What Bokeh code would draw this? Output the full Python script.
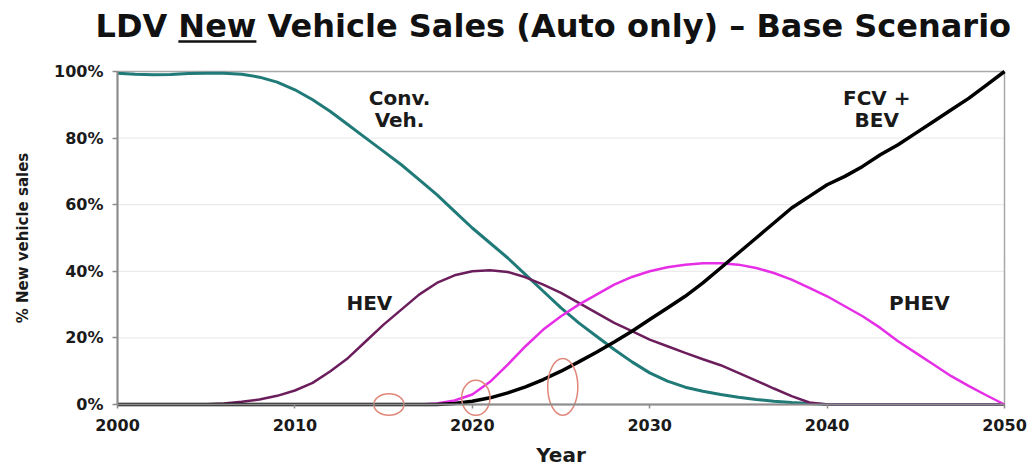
import numpy as np
from bokeh.plotting import figure
from bokeh.models import Range1d, FixedTicker, PrintfTickFormatter
from bokeh.core.properties import value
from bokeh.embed import file_html
from bokeh.resources import INLINE

# ---------------- data ----------------
years = list(range(2000, 2051))

conv_veh = [99.5, 99.2, 99.0, 99.1, 99.4, 99.5, 99.5, 99.2, 98.3, 96.8,
            94.5, 91.5, 88.0, 84.0, 80.0, 76.0, 72.0, 67.5, 63.0, 58.0,
            53.0, 48.5, 44.0, 39.0, 34.0, 29.0, 24.5, 20.5, 16.5, 12.8,
            9.5, 7.0, 5.2, 4.0, 3.0, 2.2, 1.5, 1.0, 0.6, 0.3,
            0.0, 0.0, 0.0, 0.0, 0.0, 0.0, 0.0, 0.0, 0.0, 0.0, 0.0]

hev = [0.0, 0.0, 0.0, 0.0, 0.0, 0.1, 0.3, 0.8, 1.5, 2.6,
       4.2, 6.5, 10.0, 14.0, 19.0, 24.0, 28.5, 33.0, 36.5, 38.8,
       40.0, 40.3, 39.8, 38.2, 36.0, 33.5, 30.5, 27.5, 24.5, 22.0,
       19.5, 17.5, 15.5, 13.6, 11.8, 9.5, 7.2, 4.8, 2.5, 0.6,
       0.0, 0.0, 0.0, 0.0, 0.0, 0.0, 0.0, 0.0, 0.0, 0.0, 0.0]

phev = [0.0, 0.0, 0.0, 0.0, 0.0, 0.0, 0.0, 0.0, 0.0, 0.0,
        0.0, 0.0, 0.0, 0.0, 0.0, 0.0, 0.0, 0.0, 0.3, 1.2,
        3.0, 6.8, 12.0, 17.5, 22.5, 26.5, 30.0, 33.0, 36.0, 38.3,
        40.0, 41.2, 42.0, 42.4, 42.4, 42.0, 41.0, 39.5, 37.5, 35.0,
        32.5, 29.5, 26.5, 23.0, 19.0, 15.5, 12.0, 8.5, 5.5, 2.7, 0.0]

fcv_bev = [0.0, 0.0, 0.0, 0.0, 0.0, 0.0, 0.0, 0.0, 0.0, 0.0,
           0.0, 0.0, 0.0, 0.0, 0.0, 0.0, 0.0, 0.0, 0.0, 0.3,
           1.0, 2.0, 3.5, 5.3, 7.5, 10.0, 12.8, 15.7, 18.8, 22.0,
           25.5, 29.0, 32.5, 36.5, 41.0, 45.5, 50.0, 54.5, 59.0, 62.5,
           66.0, 68.5, 71.5, 75.0, 78.0, 81.5, 85.0, 88.5, 92.0, 96.0, 100.0]

x_ticks = [2000, 2010, 2020, 2030, 2040, 2050]
y_ticks = [0, 20, 40, 60, 80, 100]

series_labels = ["Conv.", "Veh.", "HEV", "FCV +", "BEV", "PHEV"]
title_text = "LDV New Vehicle Sales (Auto only) \u2013 Base Scenario"

# hand-drawn highlight ellipses (center year, center %, width in years, height in %)
ell_x = [2015.3, 2020.2, 2025.1]
ell_y = [0.0, 2.0, 5.3]
ell_w = [1.7, 1.6, 1.7]
ell_h = [6.5, 10.5, 17.0]

# ---------------- layout / styles ----------------
W, H = 1029, 466
FONT = "DejaVu Sans"
# plot area in canvas pixels
PX_L, PX_R, PX_T, PX_B = 117.0, 1004.0, 71.0, 404.0
X0, X1 = x_ticks[0], x_ticks[-1]
Y0, Y1 = y_ticks[0], y_ticks[-1]
sx = (PX_R - PX_L) / (X1 - X0)
sy = (PX_B - PX_T) / (Y1 - Y0)
x_start = X0 - PX_L / sx
x_end = X1 + (W - PX_R) / sx
y_start = Y0 - (H - PX_B) / sy
y_end = Y1 + PX_T / sy


def fx(px):
    return x_start + px / sx


def fy(py):
    return y_end - py / sy


label_x = [2015.9, 2015.9, 2014.2, 2042.8, 2042.8, 2045.2]
label_y = [92.0, 85.5, 30.5, 92.0, 85.3, 30.5]

p = figure(width=W, height=H, x_range=Range1d(x_start, x_end), y_range=Range1d(y_start, y_end),
           min_border=0, toolbar_location=None, output_backend="svg", title=None)
p.outline_line_color = None
p.grid.visible = False
p.background_fill_color = "white"
p.border_fill_color = "white"

# plot-area frame and horizontal grid lines
p.segment(x0=X0, y0=y_ticks[1:-1], x1=X1, y1=y_ticks[1:-1], line_color="#e6e6e6", line_width=1)
p.quad(left=[X0], right=[X1], bottom=[Y0], top=[Y1], fill_color=None,
       line_color="#a8a8a8", line_width=1.5)

p.xaxis.ticker = FixedTicker(ticks=x_ticks)
p.yaxis.ticker = FixedTicker(ticks=y_ticks)
p.yaxis.formatter = PrintfTickFormatter(format="%d%%")
p.xaxis.fixed_location = Y0
p.yaxis.fixed_location = X0
p.xaxis.bounds = (X0, X1)
p.yaxis.bounds = (Y0, Y1)

for ax in (p.xaxis, p.yaxis):
    ax.axis_line_color = "#8c8c8c"
    ax.axis_line_width = 2
    ax.major_tick_line_color = "#8c8c8c"
    ax.major_tick_line_width = 1.5
    ax.major_tick_in = 0
    ax.minor_tick_line_color = None
    ax.major_label_text_font = FONT
    ax.major_label_text_font_style = "bold"
    ax.major_label_text_font_size = "16px"
    ax.major_label_text_color = "#1a1a1a"
    ax.axis_label_text_font = FONT
    ax.axis_label_text_font_style = "bold"
    ax.axis_label_text_color = "#1a1a1a"

p.xaxis.major_tick_out = 4
p.xaxis.major_label_standoff = 10
p.xaxis.axis_label = "Year"
p.xaxis.axis_label_text_font_size = "20px"
p.xaxis.axis_label_standoff = 9

p.yaxis.major_tick_out = 5
p.yaxis.major_label_standoff = 9
p.yaxis.axis_label = "% New vehicle sales"
p.yaxis.axis_label_text_font_size = "15px"
p.yaxis.axis_label_standoff = 19

# series
p.line(years, conv_veh, line_color="#1f7a78", line_width=3)
p.line(years, hev, line_color="#6b1d5c", line_width=2.5)
p.line(years, phev, line_color="#e62ee6", line_width=2.5)
p.line(years, fcv_bev, line_color="#000000", line_width=3.5)

p.text(x=label_x, y=label_y, text=series_labels, text_font=value(FONT),
       text_font_style="bold", text_font_size="20px", text_color="#1a1a1a",
       text_align="center", text_baseline="middle")

# highlight ellipses
p.ellipse(x=ell_x, y=ell_y, width=ell_w, height=ell_h, fill_color=None,
          line_color="#e0877a", line_width=1.5)

# title with the word "New" underlined
TITLE_SIZE = 32
p.text(x=[fx(95)], y=[fy(25)], text=[title_text], text_font=value(FONT),
       text_font_style="bold", text_font_size=f"{TITLE_SIZE}px", text_color="#111111",
       text_align="left", text_baseline="middle")
ul_x0 = 95 + 2.589 * TITLE_SIZE
ul_x1 = ul_x0 + 2.439 * TITLE_SIZE
p.segment(x0=[fx(ul_x0)], y0=[fy(41)], x1=[fx(ul_x1)], y1=[fy(41)],
          line_color="#111111", line_width=2.5)

open("out.html", "w").write(file_html(p, INLINE))
